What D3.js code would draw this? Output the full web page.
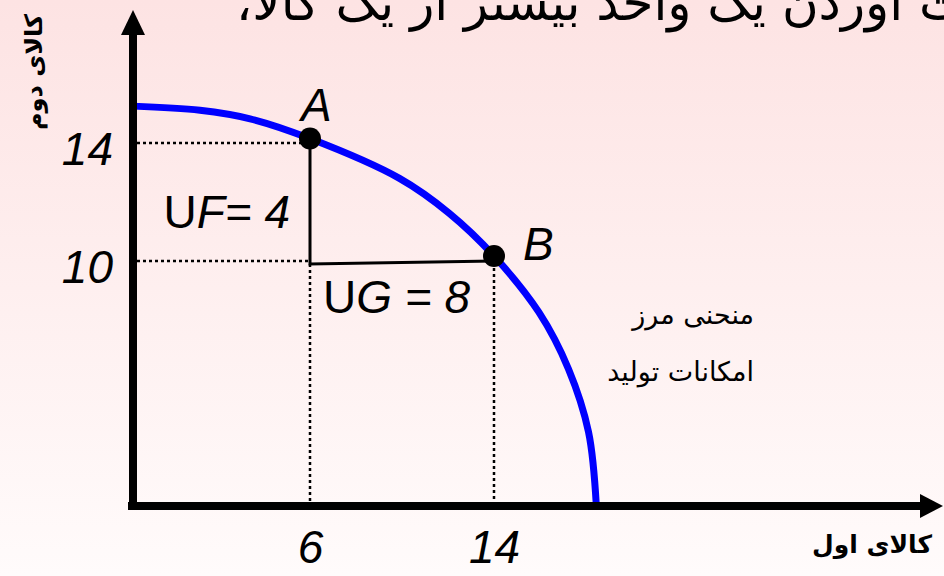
<!DOCTYPE html>
<html lang="fa">
<head>
    <meta charset="UTF-8">
    <title>Production Possibility Frontier</title>
    <script src="https://d3js.org/d3.v7.min.js"></script>
    <style>
        body {
            margin: 0;
            padding: 0;
            overflow: hidden;
        }
        .tick-label {
            font-family: 'Liberation Sans', Arial, sans-serif;
            font-style: italic;
            font-size: 46px;
            fill: #000;
        }
        .fa {
            font-family: 'DejaVu Sans', sans-serif;
            fill: #000;
        }
    </style>
</head>
<body>

    <svg width="944" height="576" class="chart"></svg>

    <script>
        // Values
        const xTicks = [6, 14];
        const yTicks = [10, 14];

        // frontier curve (good 1, good 2)
        const frontierX = [0, 2.27, 3.97, 6, 9.89, 12.05, 14, 15.95, 17.24, 18.11, 18.45];
        const frontierY = [15.25, 15.11, 14.82, 14.15, 12.8, 11.62, 10.17, 7.91, 5.59, 3.02, 0];

        // marked points on the frontier
        const pointNames = ["A", "B"];
        const pointX = [6, 14];
        const pointY = [14.15, 10.17];

        // solid step drawn from A down and across to B
        const stepX = [6, 6, 14];
        const stepY = [14.15, 9.88, 10.0];

        const titleText = "برای بدست آوردن یک واحد بیشتر از یک کالا،";
        const xLabel = "کالای اول";
        const yLabel = "کالای دوم";
        const curveLabel = ["منحنی مرز", "امکانات تولید"];

        const svg = d3.select(".chart");
        const width = +svg.attr("width");
        const height = +svg.attr("height");

        // axes origin and arrow ends
        const originX = 133, originY = 506;
        const xEnd = 943, yEnd = 10;

        // piecewise scales (the sketch is not drawn to scale)
        const xScale = d3.scaleLinear().domain([0, 6, 14]).range([originX, 310, 494]);
        const yScale = d3.scaleLinear().domain([0, 10, 14]).range([originY, 261, 143]);

        // background gradient
        const defs = svg.append("defs");
        const grad = defs.append("linearGradient")
            .attr("id", "bg")
            .attr("x1", 0).attr("y1", 0).attr("x2", 0).attr("y2", 1);
        grad.append("stop").attr("offset", "0%").attr("stop-color", "#fde3e3");
        grad.append("stop").attr("offset", "100%").attr("stop-color", "#fffbfb");

        svg.append("rect")
            .attr("width", width)
            .attr("height", height)
            .attr("fill", "url(#bg)");

        // title, cut by the top edge
        svg.append("text")
            .attr("class", "fa")
            .attr("x", 236)
            .attr("y", 20)
            .attr("text-anchor", "end")
            .style("direction", "rtl")
            .style("font-size", "50px")
            .text(titleText);

        // dotted guide lines
        const guides = svg.append("g")
            .attr("stroke", "#000")
            .attr("stroke-width", 2.5)
            .attr("stroke-dasharray", "3,3");

        guides.selectAll(".h-guide")
            .data(yTicks)
            .enter()
            .append("line")
            .attr("x1", originX + 4)
            .attr("x2", (d, i) => xScale(xTicks[0]))
            .attr("y1", d => yScale(d))
            .attr("y2", d => yScale(d));

        guides.selectAll(".v-guide")
            .data(xTicks)
            .enter()
            .append("line")
            .attr("x1", d => xScale(d))
            .attr("x2", d => xScale(d))
            .attr("y1", (d, i) => i === 0 ? yScale(stepY[1]) : yScale(pointY[1]))
            .attr("y2", originY - 4);

        // solid step from A to B
        const stepLine = d3.line()
            .x((d, i) => xScale(stepX[i]))
            .y((d, i) => yScale(stepY[i]));

        svg.append("path")
            .datum(stepX)
            .attr("d", stepLine)
            .attr("fill", "none")
            .attr("stroke", "#000")
            .attr("stroke-width", 3);

        // frontier curve
        const frontier = d3.line()
            .x((d, i) => xScale(frontierX[i]))
            .y((d, i) => yScale(frontierY[i]))
            .curve(d3.curveCatmullRom.alpha(0.5));

        svg.append("path")
            .datum(frontierX)
            .attr("d", frontier)
            .attr("fill", "none")
            .attr("stroke", "#0000ff")
            .attr("stroke-width", 7);

        // axis lines with arrow heads
        svg.append("line")
            .attr("x1", originX).attr("x2", originX)
            .attr("y1", originY + 4).attr("y2", yEnd + 22)
            .attr("stroke", "#000").attr("stroke-width", 8);
        svg.append("path")
            .attr("d", `M${originX},${yEnd} L${originX - 12},${yEnd + 25} L${originX + 12},${yEnd + 25} Z`)
            .attr("fill", "#000");

        svg.append("line")
            .attr("x1", originX - 5).attr("x2", xEnd - 20)
            .attr("y1", originY).attr("y2", originY)
            .attr("stroke", "#000").attr("stroke-width", 8);
        svg.append("path")
            .attr("d", `M${xEnd},${originY} L${xEnd - 23},${originY - 12} L${xEnd - 23},${originY + 12} Z`)
            .attr("fill", "#000");

        // tick labels through d3 axes
        const xAxis = d3.axisBottom(xScale).tickValues(xTicks).tickSize(0).tickPadding(24);
        const yAxis = d3.axisLeft(yScale).tickValues(yTicks).tickSize(0).tickPadding(20);

        const gx = svg.append("g")
            .attr("transform", `translate(0, ${originY})`)
            .call(xAxis);
        const gy = svg.append("g")
            .attr("transform", `translate(${originX}, 0)`)
            .call(yAxis);

        [gx, gy].forEach(g => {
            g.select(".domain").remove();
            g.selectAll("text")
                .attr("class", "tick-label")
                .attr("fill", null)
                .attr("font-size", null)
                .attr("font-family", null);
        });
        gy.selectAll("text").attr("dy", "0.46em");
        gx.selectAll("text").attr("dy", "0.71em");

        // points A and B
        svg.selectAll(".pt")
            .data(pointNames)
            .enter()
            .append("circle")
            .attr("class", "pt")
            .attr("cx", (d, i) => xScale(pointX[i]))
            .attr("cy", (d, i) => yScale(pointY[i]))
            .attr("r", 11)
            .attr("fill", "#000");

        svg.selectAll(".pt-label")
            .data(pointNames)
            .enter()
            .append("text")
            .attr("class", "tick-label")
            .attr("x", (d, i) => xScale(pointX[i]) + (i === 0 ? -9 : 29))
            .attr("y", (d, i) => yScale(pointY[i]) + (i === 0 ? -18 : 4))
            .text(d => d);

        // change labels
        const uf = svg.append("text")
            .attr("class", "tick-label")
            .attr("x", xScale(6) - 20)
            .attr("y", 228)
            .attr("text-anchor", "end");
        uf.append("tspan").style("font-style", "normal").text("U");
        uf.append("tspan").text("F= 4");

        const ug = svg.append("text")
            .attr("class", "tick-label")
            .attr("x", xScale(6) + 13)
            .attr("y", 313);
        ug.append("tspan").style("font-style", "normal").text("U");
        ug.append("tspan").text("G = 8");

        // curve name
        svg.selectAll(".curve-label")
            .data(curveLabel)
            .enter()
            .append("text")
            .attr("class", "fa")
            .attr("x", 754)
            .attr("y", (d, i) => 324 + i * 57)
            .attr("text-anchor", "start")
            .style("direction", "rtl")
            .style("font-size", "27px")
            .text(d => d);

        // axis names
        svg.append("text")
            .attr("class", "fa")
            .attr("x", 932)
            .attr("y", 553)
            .attr("text-anchor", "start")
            .style("direction", "rtl")
            .style("font-size", "25px")
            .style("font-weight", "bold")
            .text(xLabel);

        svg.append("text")
            .attr("class", "fa")
            .attr("transform", "translate(42, 72) rotate(-90)")
            .attr("text-anchor", "middle")
            .style("direction", "rtl")
            .style("font-size", "24px")
            .style("font-weight", "bold")
            .text(yLabel);
    </script>
</body>
</html>
